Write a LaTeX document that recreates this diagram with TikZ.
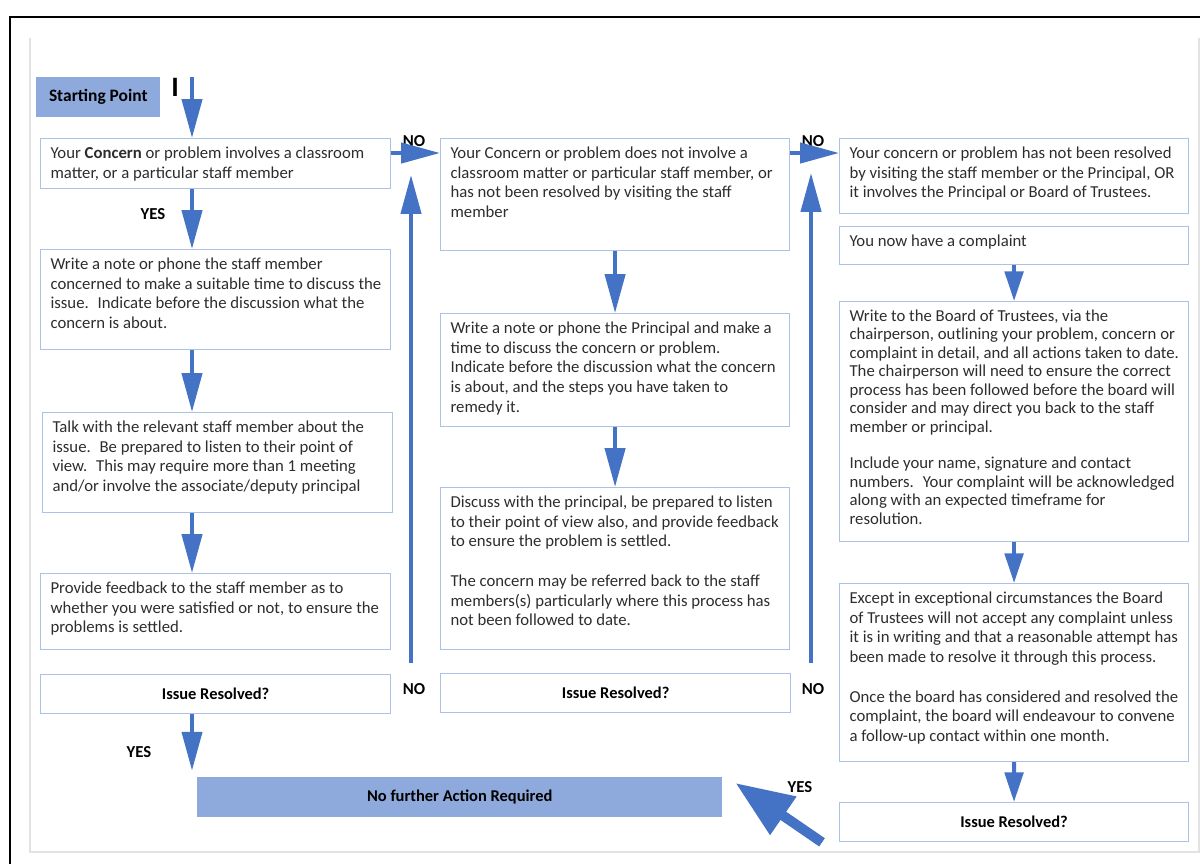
\documentclass[tikz,border=0pt]{standalone}
\usepackage{fontspec}
\setmainfont{Carlito}
\usepackage{xcolor}
\usepackage{tikz}
\usetikzlibrary{calc, positioning, arrows.meta}
\definecolor{flowBlue}{RGB}{68,114,196}
\definecolor{edgeBlue}{RGB}{172,193,232}
\definecolor{fillBlue}{RGB}{142,169,219}
\definecolor{bodyText}{RGB}{45,45,45}
\definecolor{frameGray}{RGB}{226,226,226}
\newlength{\px}
\setlength{\px}{0.025cm}
\newcommand{\boxlines}[3]{%
    \parbox[t][#2\px][t]{#1\px}{\leftskip=10\px\rightskip=0pt plus 1fil\parfillskip=0pt plus 1fil\rule{0pt}{20\px}#3}}
\tikzset{
    stageBox/.style={rectangle, draw=edgeBlue, line width=0.8pt, inner sep=0pt, anchor=north west, text=bodyText, font=\fontsize{11.9}{14}\selectfont},
    askBox/.style={rectangle, draw=edgeBlue, line width=0.8pt, anchor=north west, minimum width=8.75cm, minimum height=0.98cm, text=black, font=\bfseries\fontsize{11.7}{14}\selectfont},
    fillBox/.style={rectangle, fill=fillBlue, anchor=north west, minimum height=1cm, text=black, font=\bfseries\fontsize{11.7}{14}\selectfont},
    answer/.style={font=\bfseries\fontsize{11.9}{14}\selectfont, text=black, inner sep=0pt},
    arrow/.style={draw=flowBlue, line width=0.1cm, -{Triangle[length=0.97cm, width=0.5cm]}},
    shortArrow/.style={draw=flowBlue, line width=0.1cm, -{Triangle[length=0.74cm, width=0.46cm]}},
    bigArrow/.style={draw=flowBlue, line width=0.25cm, -{Triangle[length=1.45cm, width=1.1cm]}}
}

\begin{document}
\begin{tikzpicture}[x=0.025cm, y=-0.025cm]
    \useasboundingbox (0,0) rectangle (1200,864);
    % Page frame
    \draw[black, line width=1.5pt] (10,864) -- (10,17) -- (1200,17);
    \draw[frameGray, line width=1.2pt] (30,38) -- (30,852) -- (1199,852) -- (1199,38);

    % Left column
    \node[fillBox, minimum width=3.1cm, font=\bfseries\fontsize{12.4}{14}\selectfont] (start) at (36,77) {Starting Point};
    \node[font=\bfseries\fontsize{20}{20}\selectfont, inner sep=0pt] (cursor) at (175,87) {I};
    \node[stageBox] (b1) at (40,138) {\boxlines{350}{50}{Your \textbf{Concern} or problem involves a classroom\\matter, or a particular staff member}};
    \node[stageBox] (b2) at (40,249) {\boxlines{350}{100}{Write a note or phone the staff member\\concerned to make a suitable time to discuss the\\issue.~ Indicate before the discussion what the\\concern is about.}};
    \node[stageBox] (b3) at (42,412) {\boxlines{350}{100}{Talk with the relevant staff member about the\\issue.~ Be prepared to listen to their point of\\view.~ This may require more than 1 meeting\\and/or involve the associate/deputy principal}};
    \node[stageBox] (b4) at (40,573) {\boxlines{350}{76}{Provide feedback to the staff member as to\\whether you were satisfied or not, to ensure the\\problems is settled.}};
    \node[askBox] (q1) at (40,674) {Issue Resolved?};

    % Middle column
    \node[stageBox] (m1) at (440,138) {\boxlines{349}{112}{Your Concern or problem does not involve a\\classroom matter or particular staff member, or\\has not been resolved by visiting the staff\\member}};
    \node[stageBox] (m2) at (440,313) {\boxlines{349}{113}{Write a note or phone the Principal and make a\\time to discuss the concern or problem.\\Indicate before the discussion what the concern\\is about, and the steps you have taken to\\remedy it.}};
    \node[stageBox] (m3) at (440,487) {\boxlines{349}{162}{Discuss with the principal, be prepared to listen\\to their point of view also, and provide feedback\\to ensure the problem is settled.\\[\baselineskip]The concern may be referred back to the staff\\members(s) particularly where this process has\\not been followed to date.}};
    \node[askBox] (q2) at (440,673) {Issue Resolved?};

    % Right column
    \node[stageBox] (r1) at (839,138) {\boxlines{349}{75}{Your concern or problem has not been resolved\\by visiting the staff member or the Principal, OR\\it involves the Principal or Board of Trustees.}};
    \node[stageBox] (r2) at (839,226) {\boxlines{349}{38}{You now have a complaint}};
    \node[stageBox, font=\fontsize{11.9}{13.1}\selectfont] (r3) at (839,301) {\boxlines{349}{240}{Write to the Board of Trustees, via the\\chairperson, outlining your problem, concern or\\complaint in detail, and all actions taken to date.\\The chairperson will need to ensure the correct\\process has been followed before the board will\\consider and may direct you back to the staff\\member or principal.\\[\baselineskip]Include your name, signature and contact\\numbers.~ Your complaint will be acknowledged\\along with an expected timeframe for\\resolution.}};
    \node[stageBox] (r4) at (839,583) {\boxlines{349}{178}{Except in exceptional circumstances the Board\\of Trustees will not accept any complaint unless\\it is in writing and that a reasonable attempt has\\been made to resolve it through this process.\\[\baselineskip]Once the board has considered and resolved the\\complaint, the board will endeavour to convene\\a follow-up contact within one month.}};
    \node[askBox, minimum width=8.72cm] (r5) at (839,802) {Issue Resolved?};

    % Final outcome
    \node[fillBox, minimum width=13.12cm] (done) at (197,777) {No further Action Required};

    % YES / NO labels
    \node[answer] (yes1) at (153,214) {YES};
    \node[answer] (yes2) at (139,752) {YES};
    \node[answer] (yes3) at (800,787) {YES};
    \node[answer] (noA) at (414,141) {NO};
    \node[answer] (noB) at (813,141) {NO};
    \node[answer] (noC) at (414,689) {NO};
    \node[answer] (noD) at (813,689) {NO};

    % Connectors
    \coordinate (laneA) at (192,0);
    \coordinate (rowA) at (0,153);
    \coordinate (entry) at (192,77);
    \coordinate (upAbot) at (411,663);
    \coordinate (upAtop) at (411,175);
    \coordinate (upBbot) at (811,663);
    \coordinate (upBtop) at (811,173);
    \draw[arrow] (entry) -- (b1.north -| laneA);
    \draw[arrow] (b1.south -| laneA) -- (b2.north -| laneA);
    \draw[arrow] (b2.south -| laneA) -- (b3.north -| laneA);
    \draw[arrow] (b3.south -| laneA) -- (b4.north -| laneA);
    \draw[arrow, shorten >=0.16cm] (q1.south -| laneA) -- (done.north -| laneA);
    \draw[arrow] (b1.east |- rowA) -- (m1.west |- rowA);
    \draw[arrow] (upAbot) -- (upAtop);
    \draw[arrow] (m1.south) -- (m2.north);
    \draw[arrow] (m2.south) -- (m3.north);
    \draw[arrow] (m1.east |- rowA) -- (r1.west |- rowA);
    \draw[arrow] (upBbot) -- (upBtop);
    \draw[shortArrow] (r2.south) -- (r3.north);
    \draw[shortArrow] (r3.south) -- (r4.north);
    \draw[shortArrow] (r4.south) -- (r5.north);
    \draw[bigArrow] ($(r5.south west)+(-17,0)$) -- ($(done.north east)+(13,6)$);
\end{tikzpicture}
\end{document}
